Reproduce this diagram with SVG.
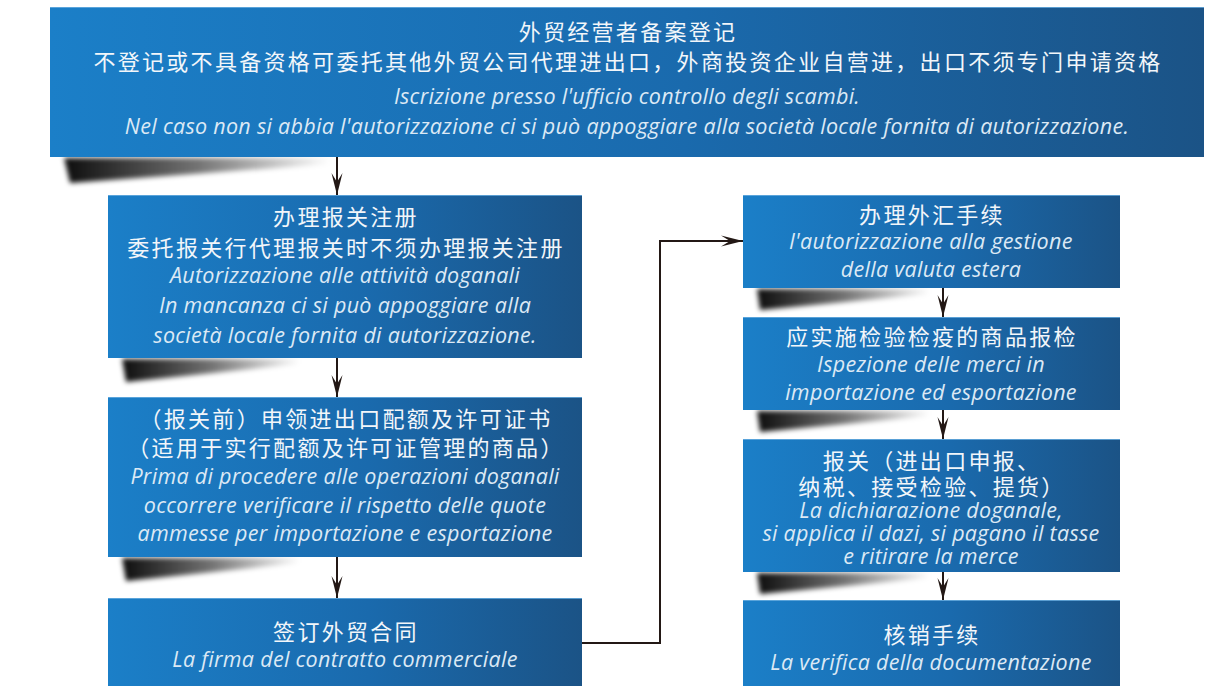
<svg xmlns="http://www.w3.org/2000/svg" width="1214" height="686" viewBox="0 0 1214 686">
<defs>
<linearGradient id="boxg" x1="0" y1="0" x2="1" y2="0">
<stop offset="0" stop-color="#1b7fc8"/>
<stop offset="0.55" stop-color="#1a6aad"/>
<stop offset="1" stop-color="#1b5386"/>
</linearGradient>
<linearGradient id="shg" x1="0" y1="0" x2="1" y2="0">
<stop offset="0" stop-color="#000" stop-opacity="0.95"/>
<stop offset="0.5" stop-color="#000" stop-opacity="0.55"/>
<stop offset="1" stop-color="#000" stop-opacity="0"/>
</linearGradient>
<filter id="blur" x="-20%" y="-50%" width="140%" height="200%">
<feGaussianBlur stdDeviation="2.5"/>
</filter>
<marker id="arr" viewBox="0 0 22 14" refX="22" refY="7" markerWidth="22" markerHeight="14" markerUnits="userSpaceOnUse" orient="auto">
<path d="M22,7 L0,1.5 L9,7 L0,12.5 Z" fill="#231815"/>
</marker>
</defs>
<style>
.box{fill:url(#boxg)}
.edge{stroke:#6aaee0;stroke-width:1.2;opacity:0.8}
.sh{fill:url(#shg);filter:url(#blur)}
.zh{font-family:"Noto Sans CJK SC","Noto Sans",sans-serif;font-size:22px;letter-spacing:2.3px;fill:#f2f6fa;text-anchor:middle}
.it{font-family:"Open Sans","Noto Sans",sans-serif;font-style:italic;font-size:21.5px;letter-spacing:0.3px;fill:#dce9f5;text-anchor:middle}
.ln{fill:none;stroke:#231815;stroke-width:2}
</style>
<rect width="1214" height="686" fill="#ffffff"/>

<g id="shadows">
<path class="sh" d="M64,158 L330,158 L330,164 L70,183 Z"/>
<path class="sh" d="M122,359 L300,359 L300,364 L126,382 Z"/>
<path class="sh" d="M122,558 L300,558 L300,563 L126,581 Z"/>
<path class="sh" d="M757,289 L930,289 L930,294 L760,310 Z"/>
<path class="sh" d="M757,411 L930,411 L930,416 L760,432 Z"/>
<path class="sh" d="M757,573 L930,573 L930,578 L760,594 Z"/>
</g>

<g id="n-top">
<rect class="box" x="50" y="7" width="1154" height="150"/>
<line class="edge" x1="50" y1="7.5" x2="1204" y2="7.5"/>
<text class="zh" x="628" y="40">外贸经营者备案登记</text>
<text class="zh" x="628" y="70">不登记或不具备资格可委托其他外贸公司代理进出口，外商投资企业自营进，出口不须专门申请资格</text>
<text class="it" x="627" y="104">Iscrizione presso l'ufficio controllo degli scambi.</text>
<text class="it" x="627" y="134">Nel caso non si abbia l'autorizzazione ci si può appoggiare alla società locale fornita di autorizzazione.</text>
</g>

<g id="n-customs-reg">
<rect class="box" x="108" y="195" width="474" height="163"/>
<line class="edge" x1="108" y1="195.5" x2="582" y2="195.5"/>
<text class="zh" x="346" y="225">办理报关注册</text>
<text class="zh" x="346" y="256">委托报关行代理报关时不须办理报关注册</text>
<text class="it" x="345" y="283">Autorizzazione alle attività doganali</text>
<text class="it" x="345" y="313">In mancanza ci si può appoggiare alla</text>
<text class="it" x="345" y="343">società locale fornita di autorizzazione.</text>
</g>

<g id="n-quota">
<rect class="box" x="108" y="397" width="474" height="160"/>
<line class="edge" x1="108" y1="397.5" x2="582" y2="397.5"/>
<text class="zh" x="346" y="427">（报关前）申领进出口配额及许可证书</text>
<text class="zh" x="346" y="456">（适用于实行配额及许可证管理的商品）</text>
<text class="it" x="345" y="484">Prima di procedere alle operazioni doganali</text>
<text class="it" x="345" y="513">occorrere verificare il rispetto delle quote</text>
<text class="it" x="345" y="541">ammesse per importazione e esportazione</text>
</g>

<g id="n-contract">
<rect class="box" x="108" y="598" width="474" height="95"/>
<line class="edge" x1="108" y1="598.5" x2="582" y2="598.5"/>
<text class="zh" x="346" y="640">签订外贸合同</text>
<text class="it" x="345" y="667">La firma del contratto commerciale</text>
</g>

<g id="n-forex">
<rect class="box" x="743" y="195" width="377" height="93"/>
<line class="edge" x1="743" y1="195.5" x2="1120" y2="195.5"/>
<text class="zh" x="932" y="223">办理外汇手续</text>
<text class="it" x="931" y="249">l'autorizzazione alla gestione</text>
<text class="it" x="931" y="277">della valuta estera</text>
</g>

<g id="n-inspect">
<rect class="box" x="743" y="317" width="377" height="93"/>
<line class="edge" x1="743" y1="317.5" x2="1120" y2="317.5"/>
<text class="zh" x="932" y="345">应实施检验检疫的商品报检</text>
<text class="it" x="931" y="372">Ispezione delle merci in</text>
<text class="it" x="931" y="400">importazione ed esportazione</text>
</g>

<g id="n-declare">
<rect class="box" x="743" y="439" width="377" height="133"/>
<line class="edge" x1="743" y1="439.5" x2="1120" y2="439.5"/>
<text class="zh" x="932" y="469">报关（进出口申报、</text>
<text class="zh" x="932" y="495">纳税、接受检验、提货）</text>
<text class="it" x="931" y="518">La dichiarazione doganale,</text>
<text class="it" x="931" y="541">si applica il dazi, si pagano il tasse</text>
<text class="it" x="931" y="564">e ritirare la merce</text>
</g>

<g id="n-verify">
<rect class="box" x="743" y="600" width="377" height="93"/>
<line class="edge" x1="743" y1="600.5" x2="1120" y2="600.5"/>
<text class="zh" x="932" y="643">核销手续</text>
<text class="it" x="931" y="670">La verifica della documentazione</text>
</g>

<g id="connectors">
<line class="ln" x1="337" y1="157" x2="337" y2="195" marker-end="url(#arr)"/>
<line class="ln" x1="337" y1="358" x2="337" y2="397" marker-end="url(#arr)"/>
<line class="ln" x1="337" y1="557" x2="337" y2="598" marker-end="url(#arr)"/>
<polyline class="ln" points="582,643 660,643 660,241 743,241" marker-end="url(#arr)"/>
<line class="ln" x1="943" y1="288" x2="943" y2="317" marker-end="url(#arr)"/>
<line class="ln" x1="943" y1="410" x2="943" y2="439" marker-end="url(#arr)"/>
<line class="ln" x1="943" y1="572" x2="943" y2="600" marker-end="url(#arr)"/>
</g>
</svg>
